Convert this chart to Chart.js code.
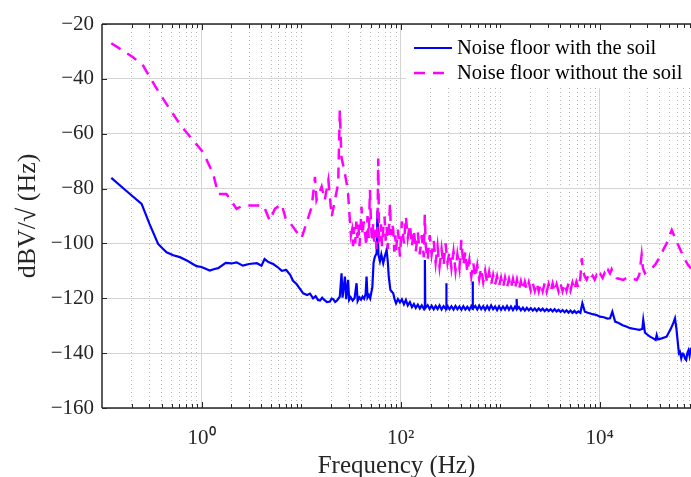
<!DOCTYPE html>
<html>
<head>
<meta charset="utf-8">
<script src="https://cdn.jsdelivr.net/npm/chart.js@4.4.1/dist/chart.umd.min.js"></script>
<style>
html,body{margin:0;padding:0;background:#fff;}
#c{display:block;}
</style>
</head>
<body>
<canvas id="c" width="691" height="477"></canvas>
<script>
// ---------------- DATA ----------------
const seriesLabels = ['Noise floor with the soil', 'Noise floor without the soil'];

const xLabelValues = [1, 100, 10000];
const xTickLabels = ['10\u2070', '10\u00B2', '10\u2074'];
const yTicks = [-160, -140, -120, -100, -80, -60, -40, -20];

// Noise floor with the soil: [frequency Hz, dBV/sqrt(Hz)]
const withSoil = [
  [0.124,-76.1],[0.176,-80.9],[0.25,-85.6],[0.30,-92.9],[0.366,-100.2],[0.445,-103.2],[0.52,-104.3],[0.605,-105.0],
  [0.72,-106.3],[0.89,-108.3],[1.0,-108.6],[1.21,-109.9],[1.35,-109.3],[1.47,-109.0],[1.75,-107.1],[2.0,-107.3],
  [2.25,-106.9],[2.6,-108.1],[3.0,-107.5],[3.6,-107.2],[4.0,-108.1],[4.3,-105.7],[4.7,-106.8],[5.25,-107.5],
  [5.8,-108.6],[6.4,-110.0],[7.1,-109.7],[7.8,-111.5],[8.3,-113.6],[9.0,-114.8],[10.5,-118.2],[11.5,-118.8],
  [12.3,-118.3],[13.2,-120.0],[14,-119.2],[14.8,-120.6],[15.5,-120.8],[16.3,-119.8],[17,-120.5],[18.2,-121.4],
  [19.5,-121.2],[20.3,-120.1],[21,-120.3],[22,-121.3],[23,-120.8],[24.5,-119.4],[25.5,-110.9],[26.1,-119.8],
  [27.6,-112.1],[28.4,-120.3],[29.7,-113.3],[30.4,-120.6],[31.5,-119.6],[33,-120.8],[34.5,-119.9],[36.1,-114.5],
  [37,-121.0],[38.5,-119.7],[40,-120.5],[41.5,-119.4],[43,-120.2],[44.5,-118.5],[45.5,-112.1],[46.5,-119.7],
  [48,-118.8],[49.5,-120.0],[51,-117.5],[52,-116.0],[53.5,-107.0],[55,-105.0],[57.4,-103.6],[58.6,-88.0],
  [59.8,-104.0],[62,-106.5],[64,-104.0],[66.9,-107.2],[69,-105.0],[72.4,-102.4],[74.5,-107.0],[76,-112.0],
  [79,-117.0],[84.3,-118.2],[87,-120.3],
  [90,-121.8],[94,-120.3],[98.5,-121.5],[103,-120.4],[108,-122.2],[113,-120.6],[118,-122.6],[124,-121.4],
  [130,-123.2],[136,-122.1],[142,-123.5],[149,-122.3],[156,-123.7],[163,-122.6],[171,-123.8],[174.5,-123.2],
  [175.4,-106.0],[177,-123.6],[179,-123.6],[187,-122.5],[196,-123.9],[205,-122.7],[215,-124.0],[225,-122.8],
  [235,-123.9],[246,-122.6],[258,-124.1],[270,-122.9],[283,-123.8],[286.5,-123.5],[288,-114.5],[289.5,-123.6],
  [296,-122.8],[310,-124.0],[324,-122.9],[340,-124.1],[356,-122.8],[372,-124.0],[390,-123.0],[408,-124.2],
  [427,-122.9],[447,-124.1],[468,-123.1],[490,-124.2],[513,-122.9],[527,-123.6],[530,-113.9],[533,-123.7],
  [537,-123.6],[562,-122.8],[589,-124.1],[616,-122.7],[645,-124.0],[676,-122.9],[707,-124.2],[741,-122.8],
  [775,-124.1],[812,-122.6],[850,-124.0],[890,-123.0],[932,-124.3],[975,-122.9],[1021,-124.2],[1069,-123.0],
  [1119,-124.1],[1172,-122.8],[1227,-124.2],[1284,-123.0],[1345,-124.3],[1408,-123.1],[1450,-123.8],[1465,-120.3],
  [1480,-123.9],[1543,-123.2],[1616,-124.4],[1692,-123.4],[1771,-124.5],[1854,-123.5],[1941,-124.4],[2032,-123.6],
  [2128,-124.5],[2228,-123.7],[2332,-124.6],[2442,-123.7],[2556,-124.5],[2676,-123.8],[2802,-124.7],[2934,-123.9],
  [3071,-124.6],[3216,-124.0],[3367,-124.8],[3525,-124.0],[3690,-124.8],[3864,-124.2],[4045,-125.0],[4235,-124.3],
  [4434,-125.1],[4642,-124.4],[4860,-125.2],[5088,-124.5],[5327,-125.3],[5577,-124.6],[5839,-125.4],[6113,-124.8],
  [6400,-125.3],[6700,-121.8],[7100,-124.9],[7600,-125.3],[8500,-125.8],[9300,-126.1],[10070,-126.7],[11000,-126.9],
  [12000,-127.4],[12700,-127.3],[13400,-124.9],[14300,-128.5],[15500,-129.0],[17000,-129.8],[18500,-130.3],[20200,-130.9],
  [22500,-131.2],[25000,-131.5],[26800,-131.2],[27400,-127.9],[28500,-132.5],[30000,-133.2],[32000,-134.0],[34500,-134.6],
  [36500,-135.2],[37400,-133.4],[38500,-135.0],[42000,-134.6],[47000,-134.0],[52000,-131.0],[55000,-129.0],[57100,-127.3],
  [59000,-131.0],[60500,-135.0],[62500,-140.0],[64000,-139.5],[66000,-141.9],[68000,-140.2],[70000,-140.5],[72000,-142.0],
  [74000,-142.5],[76000,-140.0],[78000,-139.0],[80000,-141.0],[82700,-138.0]
];

// Noise floor without the soil: [frequency Hz, dBV/sqrt(Hz)]
const withoutSoil = [
  [0.124,-27.0],[0.205,-32.1],[0.259,-35.2],[0.34,-42.5],[0.445,-49.2],[0.605,-56.5],[0.824,-62.5],[1.04,-66.8],
  [1.31,-74.7],[1.47,-82.0],[1.78,-82.0],[2.25,-87.4],[2.6,-86.2],[3.3,-86.2],[4.2,-86.2],[4.85,-91.7],
  [5.45,-87.4],[6.37,-85.6],[7.1,-91.7],[7.9,-92.9],[9.35,-96.6],[10.1,-98.1],[11.3,-92.7],[12.8,-86.6],
  [13.8,-75.7],[14.3,-84.2],[16.1,-79.3],[17.3,-84.2],[18.8,-76.9],[20.3,-90.2],[21.9,-84.2],[23.6,-78.1],
  [24.5,-51.4],[25.4,-68.4],[27.5,-74.4],[29.5,-80.5],[30.9,-91.5],[31.7,-97.0],[32.5,-95.1],[33.3,-101.0],
  [34.1,-94.0],[35,-100.0],[35.9,-92.0],[36.8,-98.0],[37.7,-93.0],[38.6,-101.0],[39.5,-95.0],[40.5,-86.6],
  [41.5,-97.0],[42.6,-92.0],[44,-96.3],[45.2,-101.0],[46.5,-90.0],[47.8,-98.0],[49.2,-80.5],[50.5,-94.0],
  [51.8,-99.0],[53,-92.7],[54.4,-100.0],[55.8,-95.0],[57.2,-102.0],[58.5,-96.0],[59.6,-69.0],[60.8,-99.0],
  [61.9,-98.7],[63.5,-93.0],[65,-101.0],[66.8,-95.0],[69,-90.2],[70.7,-99.0],[72.5,-94.0],[74.3,-102.0],
  [76.2,-96.0],[78.2,-85.4],[80.1,-97.0],[82.2,-93.0],[84.4,-95.1],[86.5,-103.0],[88.5,-97.0],
  [90,-102.4],[94,-95.0],[98.5,-104.8],[103,-92.0],[108,-100.0],[113,-90.2],[118,-98.0],[124,-93.0],
  [130,-101.0],[136,-95.0],[142,-103.0],[149,-96.0],[156,-104.0],[163,-97.0],[171,-105.0],[175,-89.6],
  [179,-101.0],[187,-106.0],[196,-97.0],[205,-104.0],[215,-99.0],[225,-107.0],[235,-101.0],[246,-108.5],
  [258,-102.0],[270,-108.0],[283,-100.0],[296,-107.0],[310,-103.0],[324,-109.0],[340,-103.0],[356,-110.0],
  [372,-104.0],[390,-109.0],[408,-98.7],[427,-108.0],[447,-103.0],[468,-110.5],[490,-106.0],[513,-112.0],
  [537,-107.0],[562,-112.5],[589,-108.0],[616,-113.0],[645,-109.0],[676,-114.0],[707,-110.0],[741,-114.5],
  [775,-110.5],[812,-115.0],[850,-111.5],[890,-115.0],[932,-112.0],[975,-115.5],[1021,-112.5],[1069,-116.0],
  [1119,-112.5],[1172,-116.0],[1227,-113.0],[1284,-116.3],[1345,-113.0],[1408,-116.5],[1474,-113.2],[1543,-116.8],
  [1616,-113.8],[1692,-117.0],[1771,-114.0],[1854,-117.0],[1941,-114.2],[2032,-117.2],[2128,-114.5],[2228,-117.3],
  [2332,-114.3],[2442,-117.5],[2556,-114.6],[2676,-117.4],[2802,-114.5],[2934,-117.6],[3071,-114.8],[3216,-117.5],
  [3367,-114.6],[3525,-117.6],[3690,-114.9],[3864,-117.5],[4045,-114.7],[4235,-117.4],[4434,-114.6],[4642,-117.3],
  [4860,-114.5],[5088,-117.2],[5327,-114.3],[5577,-117.0],[5839,-114.0],[6113,-116.3],[6400,-112.5],[6600,-105.4],
  [6800,-110.0],[7100,-112.1],[7400,-113.2],[7750,-111.5],[8100,-113.0],[8500,-111.8],[8900,-113.2],[9300,-111.6],
  [9750,-112.9],[10200,-111.3],[10700,-112.6],[11200,-110.8],[11700,-112.0],[12200,-109.8],[12700,-110.9],[13200,-109.4],
  [14000,-111.5],[14800,-112.7],[16000,-113.0],[17250,-113.3],[19000,-112.4],[21000,-112.7],[23550,-113.3],[25000,-111.5],
  [26400,-104.2],[27200,-109.0],[28500,-110.9],[31000,-110.0],[33400,-109.1],[36500,-107.5],[40400,-104.8],[44000,-102.0],
  [47100,-100.0],[50000,-97.5],[53000,-95.1],[56500,-97.5],[60500,-100.0],[66000,-103.0],[72000,-106.0],[77000,-107.8],
  [82700,-109.1]
];

// ---------------- CHART ----------------
const FONT = '"Liberation Serif", "Times New Roman", serif';
const TXT = '#262626';

const toPoints = arr => arr.map(([f, v]) => ({ x: f, y: v }));

const decorPlugin = {
  id: 'decor',
  afterDatasetsDraw(chart) {
    const { ctx, chartArea: a, scales: { x, y } } = chart;
    ctx.save();
    // legend box (inside top-right of plot)
    const w = 285, h = 63;
    const x0 = a.right - w, y0 = a.top + 1;
    ctx.fillStyle = '#ffffff';
    ctx.fillRect(x0, y0, w, h);
    [0, 1].forEach(row => {
      const ds = chart.data.datasets[row];
      const ly = y0 + 23 + row * 25;
      ctx.strokeStyle = ds.borderColor;
      ctx.lineWidth = ds.borderWidth;
      ctx.setLineDash(ds.borderDash || []);
      ctx.beginPath(); ctx.moveTo(x0 + 8, ly); ctx.lineTo(x0 + 46, ly); ctx.stroke();
      ctx.setLineDash([]);
      ctx.fillStyle = '#000';
      ctx.font = '20.5px ' + FONT;
      ctx.textBaseline = 'middle';
      ctx.textAlign = 'left';
      ctx.fillText(ds.label, x0 + 51, ly + 1);
    });
    // inward tick marks
    ctx.strokeStyle = TXT;
    ctx.lineWidth = 1;
    const seg = (x1, y1, x2, y2) => { ctx.beginPath(); ctx.moveTo(x1, y1); ctx.lineTo(x2, y2); ctx.stroke(); };
    x.ticks.forEach(t => {
      const px = Math.round(x.getPixelForValue(t.value)) + 0.5;
      if (px < a.left + 1 || px > a.right) return;
      const len = xLabelValues.includes(t.value) ? 6 : 4;
      seg(px, a.bottom, px, a.bottom - len);
      seg(px, a.top, px, a.top + len);
    });
    y.ticks.forEach(t => {
      const py = Math.round(y.getPixelForValue(t.value)) + 0.5;
      seg(a.left, py, a.left + 5, py);
    });
    // frame
    ctx.lineWidth = 1.5;
    seg(a.left, a.top, a.left, a.bottom);
    seg(a.left, a.bottom, a.right, a.bottom);
    seg(a.left, a.top, a.right, a.top);
    ctx.restore();
  }
};

new Chart(document.getElementById('c'), {
  type: 'line',
  data: {
    datasets: [
      {
        label: seriesLabels[0],
        data: toPoints(withSoil),
        borderColor: '#0000ff',
        borderWidth: 2.2,
        order: 2
      },
      {
        label: seriesLabels[1],
        data: toPoints(withoutSoil),
        borderColor: '#ff00ff',
        borderWidth: 2.5,
        borderDash: [11, 8],
        order: 1
      }
    ]
  },
  options: {
    responsive: false,
    animation: false,
    devicePixelRatio: 1,
    layout: { padding: { top: 24, right: 0, left: 0, bottom: 0 } },
    elements: { point: { radius: 0 }, line: { tension: 0, fill: false } },
    plugins: { legend: { display: false }, tooltip: { enabled: false } },
    scales: {
      x: {
        type: 'logarithmic',
        min: 0.1,
        max: 82700,
        afterFit: s => { s.height = 69; s.paddingLeft = 0; s.paddingRight = 0; },
        afterBuildTicks: s => {
          const t = [];
          for (let e = -1; e <= 4; e++) {
            for (let m = 1; m <= 9; m++) {
              const v = m * Math.pow(10, e);
              if (v > 0.1 && v <= 82700) t.push({ value: v });
            }
          }
          s.ticks = t;
        },
        grid: {
          drawTicks: false,
          color: c => (c.tick && xLabelValues.includes(c.tick.value)) ? '#d4d4d4' : '#b8b8b8',
          lineWidth: 1
        },
        border: {
          display: false,
          dash: c => (c.tick && xLabelValues.includes(c.tick.value)) ? [] : [1, 3]
        },
        ticks: {
          autoSkip: false,
          maxRotation: 0,
          padding: 18,
          color: TXT,
          font: { family: FONT, size: 21 },
          callback: v => { const i = xLabelValues.indexOf(v); return i >= 0 ? xTickLabels[i] : ''; }
        },
        title: {
          display: true,
          text: 'Frequency (Hz)',
          color: TXT,
          font: { family: FONT, size: 25 },
          padding: { top: 0, bottom: -4 }
        }
      },
      y: {
        min: -160,
        max: -20,
        afterFit: s => { s.width = 102; },
        afterBuildTicks: s => { s.ticks = yTicks.map(v => ({ value: v })); },
        grid: { drawTicks: false, color: '#d4d4d4', lineWidth: 1 },
        border: { display: false },
        ticks: {
          padding: 8,
          color: TXT,
          font: { family: FONT, size: 21 },
          callback: v => String(v).replace('-', '\u2212')
        },
        title: {
          display: true,
          text: 'dBV/\u221A (Hz)',
          color: TXT,
          font: { family: FONT, size: 26 },
          padding: { top: 13, bottom: 0 }
        }
      }
    }
  },
  plugins: [decorPlugin]
});
</script>
</body>
</html>
